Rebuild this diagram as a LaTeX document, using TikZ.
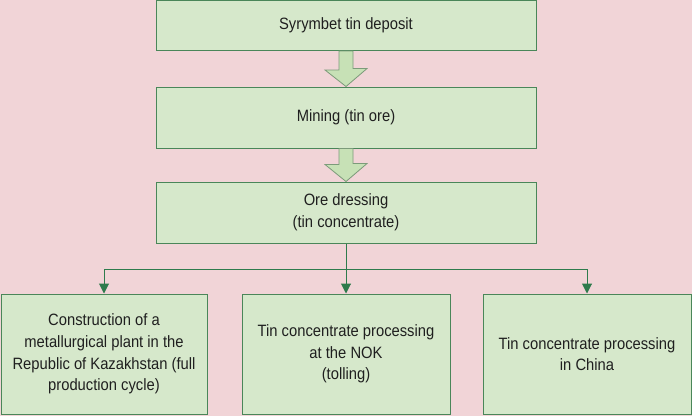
\documentclass[tikz,border=0pt]{standalone}
\usepackage{fontspec}
\setmainfont{Liberation Sans}[FakeStretch=0.9]
\usetikzlibrary{arrows.meta,calc}
\definecolor{bgpink}{HTML}{F1D4D7}
\definecolor{boxfill}{HTML}{D6E8CB}
\definecolor{boxline}{HTML}{4A8659}
\definecolor{connline}{HTML}{2E7B4C}
\definecolor{blkfill}{HTML}{C7E1B6}
\definecolor{blkline}{HTML}{7C9B7A}
\tikzset{
  procbox/.style={draw=boxline, line width=1pt, fill=boxfill, align=center,
    inner sep=0pt, font=\fontsize{16.4}{21.7}\selectfont, text=black!88},
  conn/.style={draw=connline, line width=1pt, -{Triangle[length=10pt,width=10pt]}},
  blockarrow/.style={draw=blkline, line width=0.8pt, fill=blkfill, line join=miter}
}
\begin{document}
\begin{tikzpicture}[x=1pt,y=-1pt]
\fill[bgpink] (0,0) rectangle (692,416);
\useasboundingbox (0,0) rectangle (692,416);
\node[procbox, minimum width=380pt, minimum height=50pt] (dep) at (346,25.5) {Syrymbet tin deposit};
\node[procbox, minimum width=380pt, minimum height=61pt] (min) at (346,117.5) {Mining (tin ore)};
\node[procbox, minimum width=380pt, minimum height=61pt] (ore) at (346,212.5) {Ore dressing\\(tin concentrate)};
\node[procbox, minimum width=206pt, minimum height=120pt] (kaz) at (104,354) {Construction of a\\metallurgical plant in the\\Republic of Kazakhstan (full\\production cycle)};
\node[procbox, minimum width=208pt, minimum height=120pt] (nok) at (346,354) {Tin concentrate processing\\at the NOK\\(tolling)};
\node[procbox, minimum width=208pt, minimum height=120pt] (chn) at (587,354) {Tin concentrate processing\\in China};
% block arrows
\draw[blockarrow] ($(dep.south)+(-7,0)$) -- ++(0,19) -- ++(-14,0) -- (min.north) -- ++(21,-18) -- ++(-14,0) -- ($(dep.south)+(7,0)$) -- cycle;
\draw[blockarrow] ($(min.south)+(-7,0)$) -- ++(0,16) -- ++(-14,0) -- (ore.north) -- ++(21,-18) -- ++(-14,0) -- ($(min.south)+(7,0)$) -- cycle;
% connectors
\coordinate (split) at ($(ore.south)+(0,26)$);
\draw[conn] (ore.south) -- (nok.north);
\draw[conn] (split) -| (kaz.north);
\draw[conn] (split) -| (chn.north);
\end{tikzpicture}
\end{document}
